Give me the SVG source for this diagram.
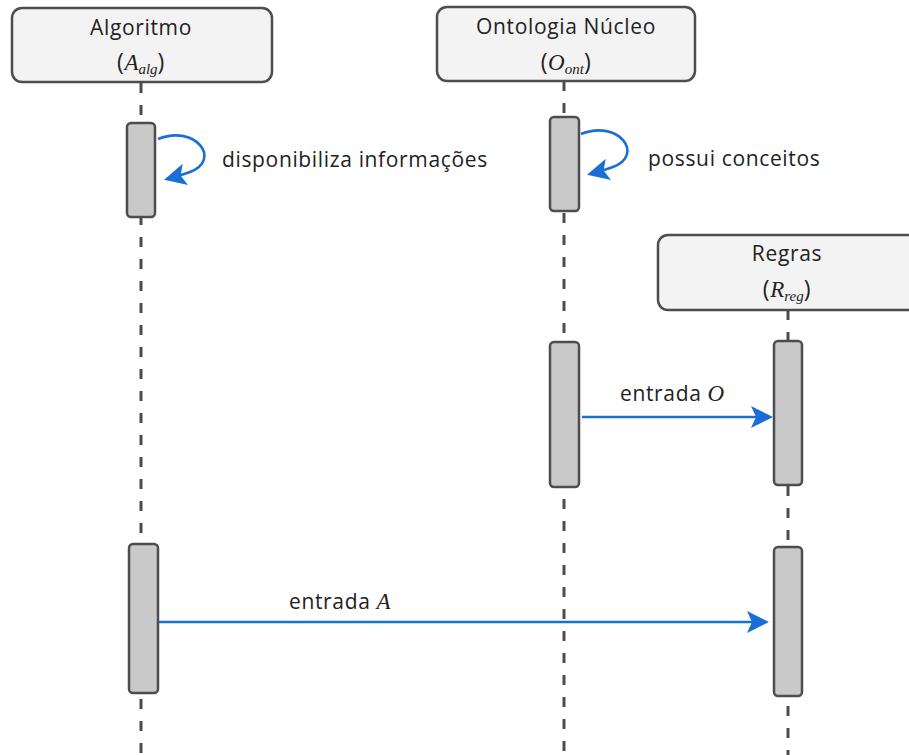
<svg xmlns="http://www.w3.org/2000/svg" width="909" height="755" viewBox="0 0 909 755">
  <style>
    .head { fill: #f3f3f3; stroke: #4d4d4d; stroke-width: 2.5; }
    .act { fill: #c9c9c9; stroke: #4d4d4d; stroke-width: 2.5; }
    .life { stroke: #4d4d4d; stroke-width: 3; stroke-dasharray: 10 12; fill: none; }
    .msg { stroke: #1a6fd4; stroke-width: 2.6; fill: none; }
    .t { font-family: "Open Sans", "Liberation Sans", sans-serif; font-size: 21px; letter-spacing: 0.65px; fill: #222; }
    .p { font-size: 23px; }
    .m { font-family: "Liberation Serif", serif; font-style: italic; letter-spacing: 0; fill: #222; }
  </style>
  <defs>
    <marker id="arrowL" viewBox="0 0 22 22" refX="19" refY="11" markerWidth="22" markerHeight="22" markerUnits="userSpaceOnUse" orient="auto">
      <path d="M0,0 L22,11 L0,22 L5,11 Z" fill="#1a6fd4"/>
    </marker>
  </defs>

  <!-- lifelines -->
  <g id="lifelines">
    <line class="life" x1="141" y1="83" x2="141" y2="755"/>
    <line class="life" x1="564" y1="81" x2="564" y2="755"/>
    <line class="life" x1="788" y1="310" x2="788" y2="755"/>
  </g>

  <!-- participants -->
  <g id="algoritmo">
    <rect class="head" x="12" y="8" width="260" height="74" rx="10"/>
    <text class="t" x="141" y="35" text-anchor="middle">Algoritmo</text>
    <text class="t p" x="141" y="70" text-anchor="middle">(<tspan class="m" font-size="23">A</tspan><tspan class="m" font-size="15" dy="4">alg</tspan><tspan dy="-4">)</tspan></text>
  </g>
  <g id="ontologia">
    <rect class="head" x="437" y="7" width="258" height="74" rx="10"/>
    <text class="t" x="566" y="34" text-anchor="middle">Ontologia Núcleo</text>
    <text class="t p" x="566" y="70" text-anchor="middle">(<tspan class="m" font-size="23">O</tspan><tspan class="m" font-size="15" dy="4">ont</tspan><tspan dy="-4">)</tspan></text>
  </g>
  <g id="regras">
    <rect class="head" x="658" y="235" width="260" height="75" rx="10"/>
    <text class="t" x="787" y="261" text-anchor="middle">Regras</text>
    <text class="t p" x="787" y="297" text-anchor="middle">(<tspan class="m" font-size="23">R</tspan><tspan class="m" font-size="15" dy="4">reg</tspan><tspan dy="-4">)</tspan></text>
  </g>

  <!-- activation bars -->
  <g id="activations">
    <rect class="act" x="127" y="123" width="28" height="94" rx="4"/>
    <rect class="act" x="550" y="117" width="29" height="94" rx="4"/>
    <rect class="act" x="550" y="342" width="29" height="145" rx="4"/>
    <rect class="act" x="774" y="341" width="28" height="144" rx="4"/>
    <rect class="act" x="129" y="544" width="29" height="149" rx="4"/>
    <rect class="act" x="774" y="547" width="28" height="149" rx="4"/>
  </g>

  <!-- messages -->
  <g id="connectors">
    <path class="msg" d="M158,139 C196,124 222,160 190,172 C182,175 175,177 167,179" marker-end="url(#arrowL)"/>
    <path class="msg" d="M581,134 C619,119 645,155 613,167 C605,170 598,172 590,174" marker-end="url(#arrowL)"/>
    <line class="msg" x1="582" y1="417" x2="770" y2="417" marker-end="url(#arrowL)"/>
    <line class="msg" x1="159" y1="622" x2="766" y2="622" marker-end="url(#arrowL)"/>
  </g>

  <!-- message labels -->
  <g id="labels">
    <text class="t" x="222" y="167">disponibiliza informações</text>
    <text class="t" x="648" y="166">possui conceitos</text>
    <text class="t" x="620" y="401">entrada <tspan class="m" font-size="23">O</tspan></text>
    <text class="t" x="289" y="609">entrada <tspan class="m" font-size="23">A</tspan></text>
  </g>
</svg>
